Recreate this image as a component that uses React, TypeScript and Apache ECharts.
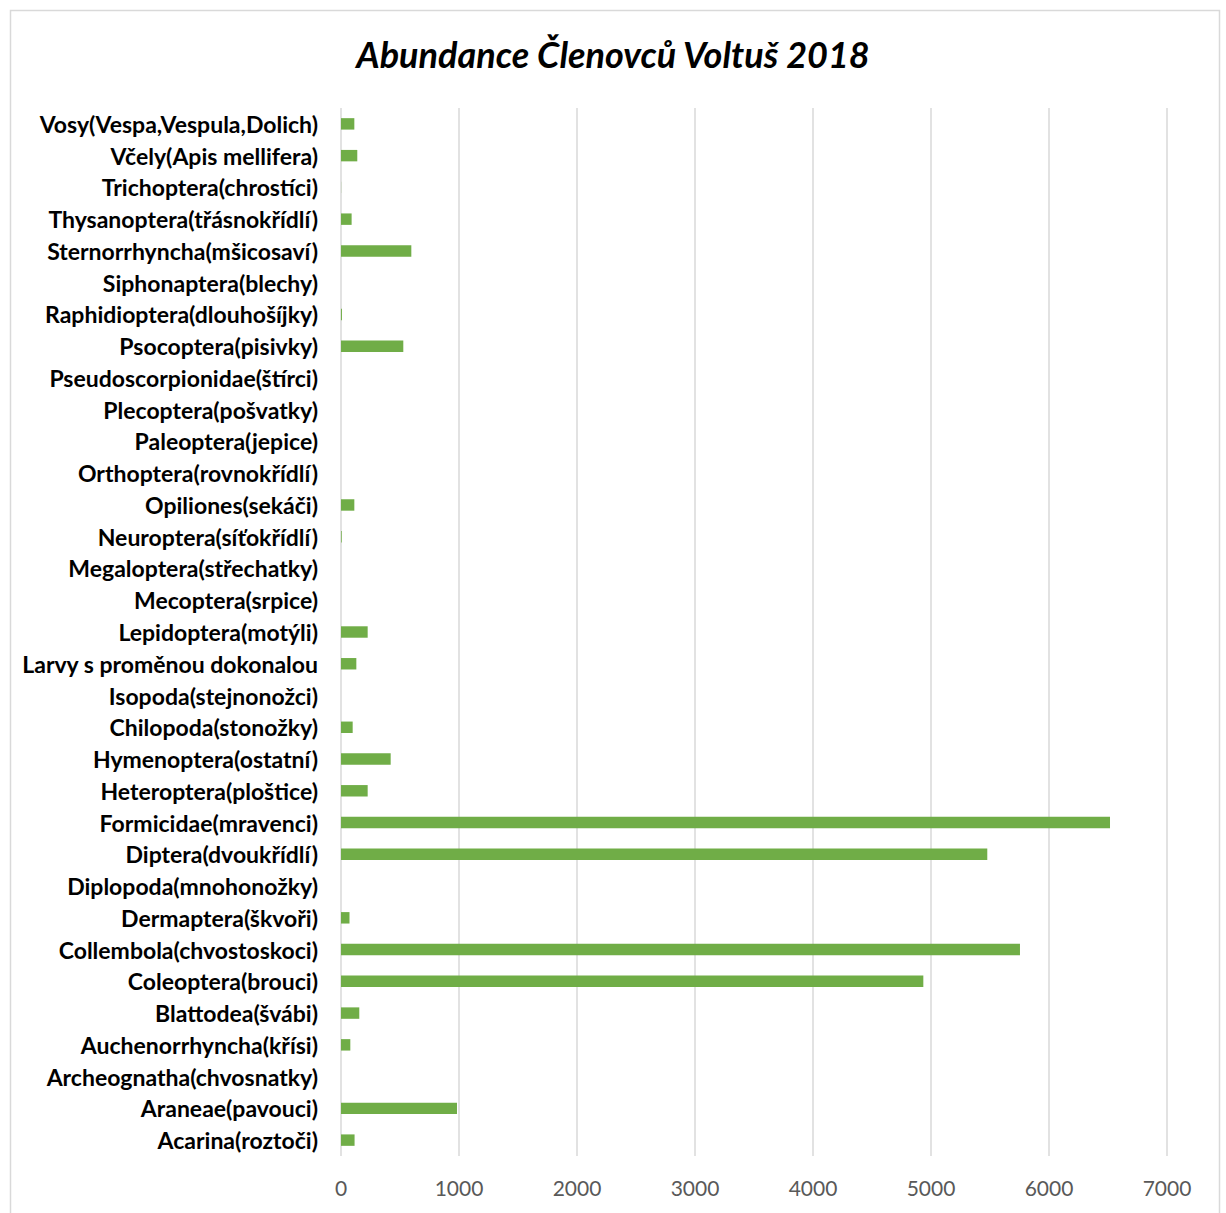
import React, { useEffect, useRef } from "react";
import * as echarts from "echarts";

const categories: string[] = [
  "Acarina(roztoči)",
  "Araneae(pavouci)",
  "Archeognatha(chvosnatky)",
  "Auchenorrhyncha(křísi)",
  "Blattodea(švábi)",
  "Coleoptera(brouci)",
  "Collembola(chvostoskoci)",
  "Dermaptera(škvoři)",
  "Diplopoda(mnohonožky)",
  "Diptera(dvoukřídlí)",
  "Formicidae(mravenci)",
  "Heteroptera(ploštice)",
  "Hymenoptera(ostatní)",
  "Chilopoda(stonožky)",
  "Isopoda(stejnonožci)",
  "Larvy s proměnou dokonalou",
  "Lepidoptera(motýli)",
  "Mecoptera(srpice)",
  "Megaloptera(střechatky)",
  "Neuroptera(síťokřídlí)",
  "Opiliones(sekáči)",
  "Orthoptera(rovnokřídlí)",
  "Paleoptera(jepice)",
  "Plecoptera(pošvatky)",
  "Pseudoscorpionidae(štírci)",
  "Psocoptera(pisivky)",
  "Raphidioptera(dlouhošíjky)",
  "Siphonaptera(blechy)",
  "Sternorrhyncha(mšicosaví)",
  "Thysanoptera(třásnokřídlí)",
  "Trichoptera(chrostíci)",
  "Včely(Apis mellifera)",
  "Vosy(Vespa,Vespula,Dolich)",
];

const abundance: number[] = [
  115, 983, 0, 79, 155, 4935, 5754, 72, 0, 5477, 6517, 226, 421, 99, 0, 130,
  226, 0, 0, 6, 113, 0, 0, 0, 0, 528, 8, 0, 596, 90, 1, 138, 113,
];

const xTicks = { min: 0, max: 7000, interval: 1000 };
const title = "Abundance Členovců Voltuš 2018";

export default function App() {
  const ref = useRef<HTMLDivElement>(null);
  useEffect(() => {
    if (!ref.current) return;
    const chart = echarts.init(ref.current, null, { renderer: "svg" });
    chart.setOption({
      animation: false,
      backgroundColor: "#ffffff",
      title: {
        text: title,
        left: "center",
        top: 31,
        textStyle: {
          fontFamily: "Lato",
          fontStyle: "italic",
          fontWeight: "bold",
          fontSize: 36,
          color: "#000000",
        },
      },
      graphic: [
        {
          type: "rect",
          shape: { x: 10.5, y: 10.5, width: 1209, height: 1210 },
          style: { fill: "none", stroke: "#d9d9d9", lineWidth: 1.5 },
          silent: true,
        },
      ],
      grid: { left: 341, right: 59, top: 108, bottom: 57, containLabel: false },
      xAxis: {
        type: "value",
        min: xTicks.min,
        max: xTicks.max,
        interval: xTicks.interval,
        axisLine: { show: false },
        axisTick: { show: false },
        axisLabel: {
          color: "#595959",
          fontFamily: "Lato",
          fontSize: 21,
          margin: 21,
          formatter: (v: number) => String(v),
        },
        splitLine: { show: true, lineStyle: { color: "#d9d9d9", width: 1.5 } },
      },
      yAxis: {
        type: "category",
        data: categories,
        axisLine: { show: false },
        axisTick: { show: false },
        axisLabel: {
          color: "#000000",
          fontFamily: "Lato",
          fontWeight: "bold",
          fontSize: 23,
          margin: 23,
          interval: 0,
        },
      },
      series: [
        {
          type: "bar",
          data: abundance,
          barCategoryGap: "64%",
          itemStyle: { color: "#70ad47" },
        },
      ],
    });
    return () => chart.dispose();
  }, []);
  return (
    <div
      ref={ref}
      style={{ position: "fixed", left: 0, top: 0, width: 1226, height: 1213 }}
    />
  );
}
